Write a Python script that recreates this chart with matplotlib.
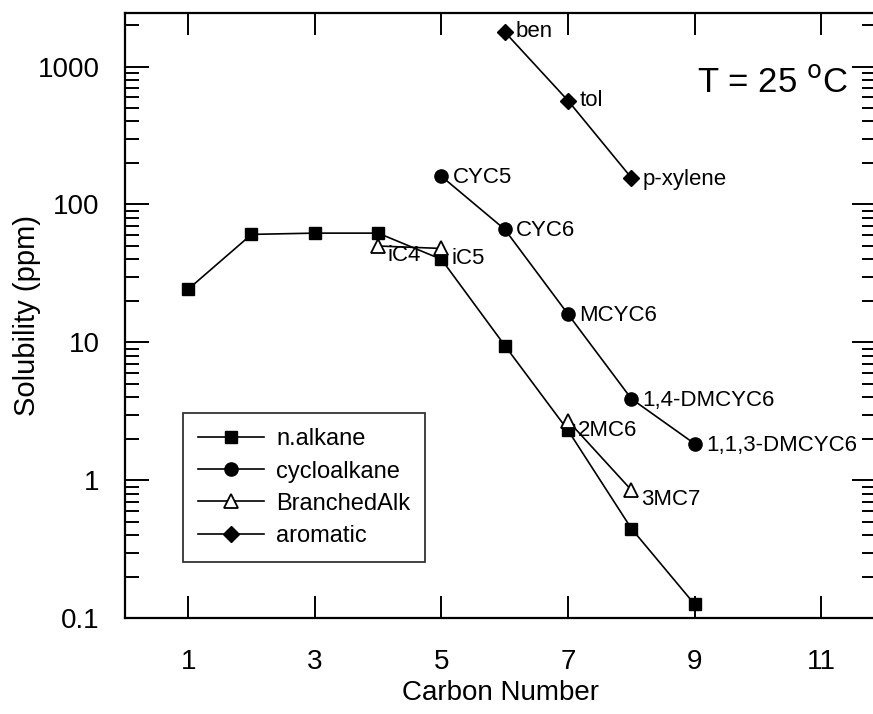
import numpy as np
import matplotlib
matplotlib.use("Agg")
import matplotlib.pyplot as plt
from matplotlib.ticker import FixedLocator, LogLocator, NullFormatter, NullLocator

plt.rcParams['font.family'] = ['Liberation Sans', 'DejaVu Sans']

# data
alk_c = [1, 2, 3, 4, 5, 6, 7, 8, 9]
alk_s = [24.3, 60.7, 62, 62, 40, 9.5, 2.3, 0.447, 0.126]

cyc_c = [5, 6, 7, 8, 9]
cyc_s = [160, 66, 16, 3.9, 1.84]
cyc_names = ['CYC5', 'CYC6', 'MCYC6', '1,4-DMCYC6', '1,1,3-DMCYC6']

# branched alkanes: two separate pairs (iC4-iC5, 2MC6-3MC7)
br_c = [4, 5, 7, 8]
br_s = [50, 48, 2.7, 0.85]
br_names = ['iC4', 'iC5', '2MC6', '3MC7']

aro_c = [6, 7, 8]
aro_s = [1780, 565, 156]
aro_names = ['ben', 'tol', 'p-xylene']

xticks = [1, 3, 5, 7, 9, 11]
yticks = [0.1, 1, 10, 100, 1000]
ylabels = ['0.1', '1', '10', '100', '1000']

fig = plt.figure(figsize=(8.73, 7.14), dpi=100)
ax = fig.add_axes([0.143, 0.134, 0.861, 0.848])

lw = 1.2
ax.plot(alk_c, alk_s, '-', color='black', lw=lw, marker='s', ms=9, label='n.alkane')
ax.plot(cyc_c, cyc_s, '-', color='black', lw=lw, marker='o', ms=9.5, label='cycloalkane')
tri = dict(color='black', lw=lw, marker='^', ms=10, mfc='white', mew=1.3)
ax.plot(br_c[:2], br_s[:2], '-', label='BranchedAlk', **tri)
ax.plot(br_c[2:], br_s[2:], '-', **tri)
ax.plot(aro_c, aro_s, '-', color='black', lw=lw, marker='D', ms=8, label='aromatic')

# point labels
fs_pt = 16
for c, s, n in zip(aro_c, aro_s, aro_names):
    dy = -1 if n == 'p-xylene' else 0
    ax.annotate(n, (c, s), xytext=(8, dy), textcoords='offset points',
                fontsize=fs_pt, va='center', ha='left')
for c, s, n in zip(cyc_c, cyc_s, cyc_names):
    ax.annotate(n, (c, s), xytext=(8, -1), textcoords='offset points',
                fontsize=fs_pt, va='center', ha='left')
for c, s, n in zip(br_c, br_s, br_names):
    ax.annotate(n, (c, s), xytext=(7, -7), textcoords='offset points',
                fontsize=fs_pt, va='center', ha='left')

ax.text(0.962, 0.869, 'T = 25 $^{\\mathrm{o}}$C', transform=ax.transAxes,
        fontsize=25, ha='right', va='baseline')

ax.set_yscale('log')
ax.set_xlim(0, 11.87)
ax.set_ylim(0.1, 2450)

ax.xaxis.set_major_locator(FixedLocator(xticks))
ax.xaxis.set_minor_locator(NullLocator())
ax.set_xticklabels([str(t) for t in xticks])
ax.yaxis.set_major_locator(FixedLocator(yticks))
ax.set_yticklabels(ylabels)
ax.yaxis.set_minor_locator(LogLocator(base=10, subs=np.arange(2, 10), numticks=20))
ax.yaxis.set_minor_formatter(NullFormatter())

ax.tick_params(axis='both', which='major', direction='in', top=True, right=True,
               labelsize=20, width=1.4)
ax.tick_params(axis='x', which='major', length=16, pad=22)
ax.tick_params(axis='y', which='major', length=17, pad=18)
ax.tick_params(axis='y', which='minor', direction='in', right=True, length=10, width=1.4)

for sp in ax.spines.values():
    sp.set_linewidth(1.6)

ax.set_xlabel('Carbon Number', fontsize=20, labelpad=4)
ax.set_ylabel('Solubility (ppm)', fontsize=21)
ax.yaxis.set_label_coords(-0.112, 0.5)

leg = ax.legend(loc='upper left', bbox_to_anchor=(0.077, 0.339), fontsize=17,
                frameon=True, fancybox=False, edgecolor='black', handlelength=2.8,
                handletextpad=0.5, borderpad=0.65, labelspacing=0.43, borderaxespad=0)
leg.get_frame().set_linewidth(1.3)

fig.savefig('out.png', dpi=100)
